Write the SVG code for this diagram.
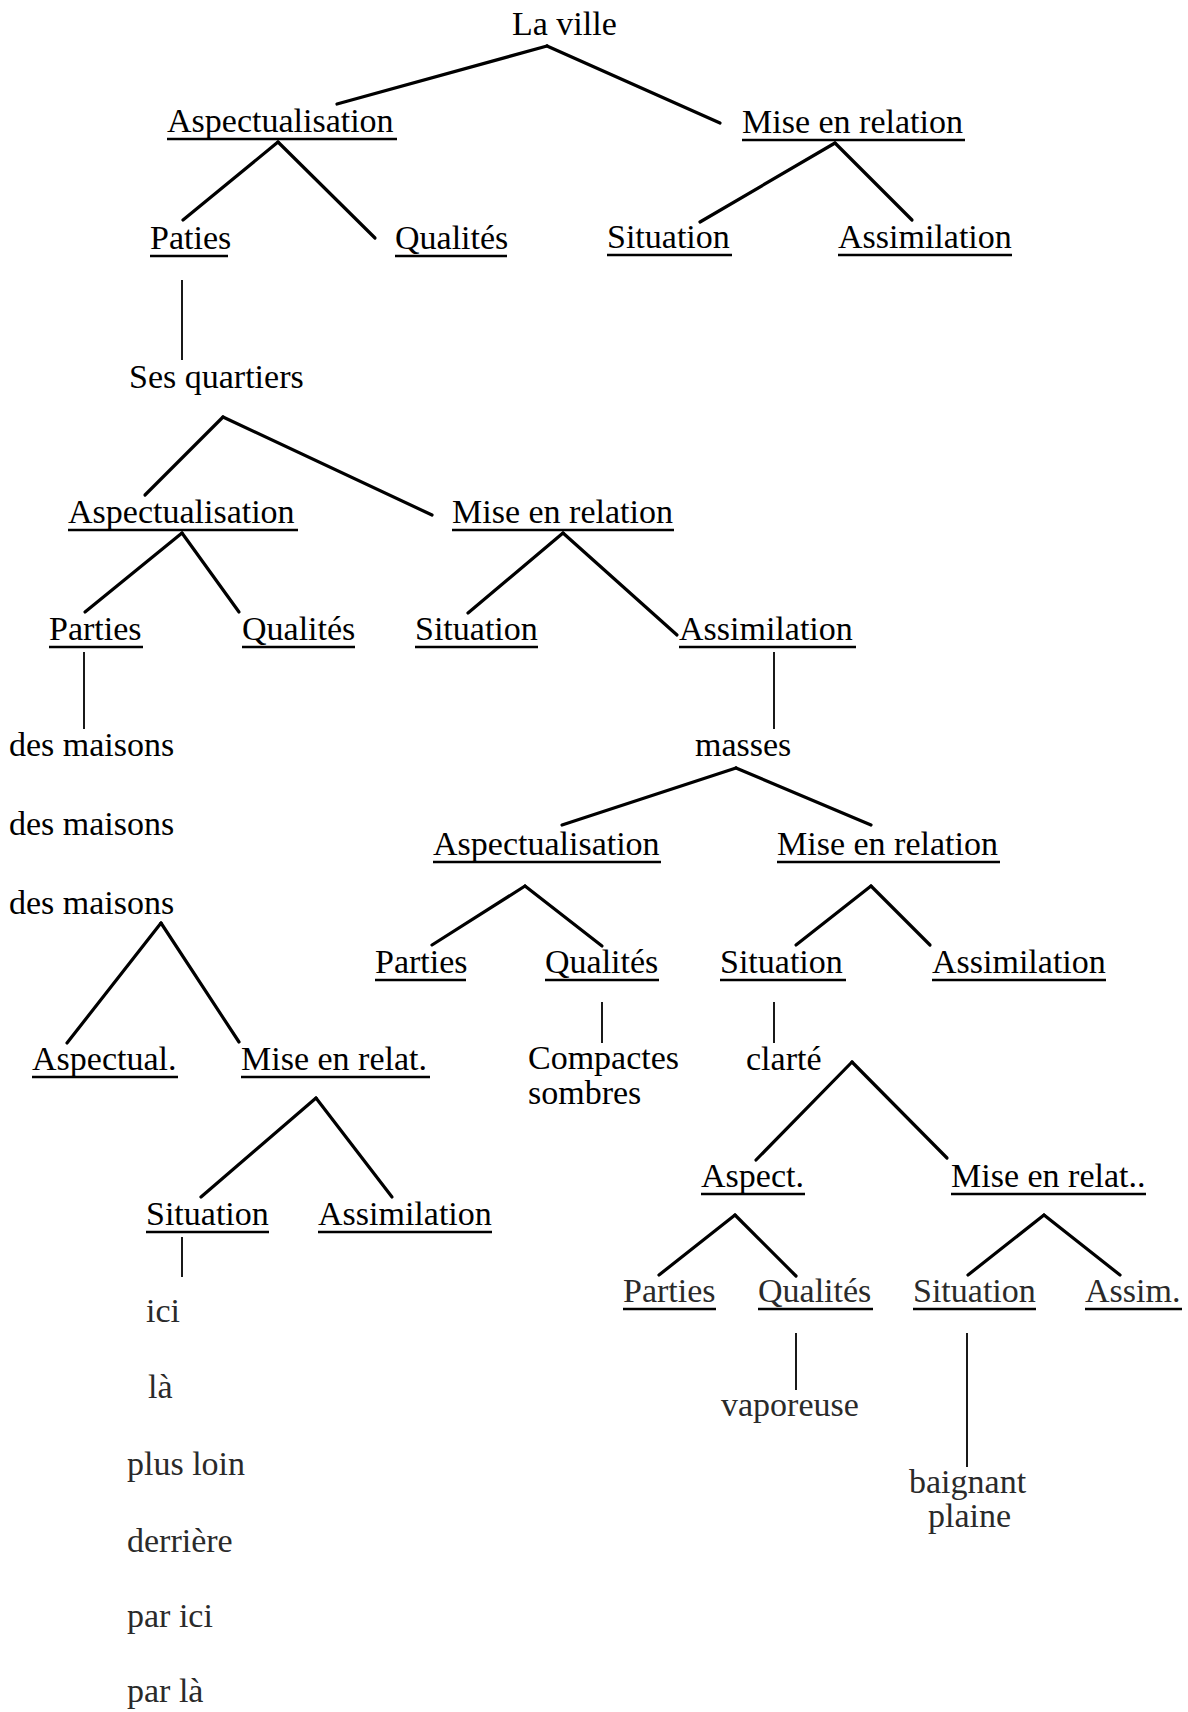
<svg xmlns="http://www.w3.org/2000/svg" width="1188" height="1712" viewBox="0 0 1188 1712">
<style>
  .t { font-family: "Liberation Serif", "Times New Roman", serif; font-size: 34px; fill: #000; }
  .lt { fill: #2a2a2a; }
  .u { stroke: #000; stroke-width: 2.6; fill: none; }
  .c { stroke: #000; stroke-width: 3.2; stroke-linecap: round; fill: none; }
  .v { stroke: #000; stroke-width: 1.8; fill: none; }
</style>
<rect width="1188" height="1712" fill="#fff"/>

<g id="connectors">
  <line class="c" x1="547" y1="46" x2="337" y2="104"/>
  <line class="c" x1="547" y1="46" x2="720" y2="123"/>
  <line class="c" x1="278" y1="142" x2="183" y2="220"/>
  <line class="c" x1="278" y1="142" x2="375" y2="238"/>
  <line class="c" x1="835" y1="143" x2="700" y2="222"/>
  <line class="c" x1="835" y1="143" x2="912" y2="220"/>
  <line class="v" x1="182" y1="280" x2="182" y2="360"/>
  <line class="c" x1="223" y1="417" x2="145" y2="495"/>
  <line class="c" x1="223" y1="417" x2="432" y2="515"/>
  <line class="c" x1="182" y1="533" x2="85" y2="612"/>
  <line class="c" x1="182" y1="533" x2="239" y2="612"/>
  <line class="c" x1="563" y1="533" x2="468" y2="613"/>
  <line class="c" x1="563" y1="533" x2="677" y2="635"/>
  <line class="v" x1="84" y1="652" x2="84" y2="729"/>
  <line class="v" x1="774" y1="652" x2="774" y2="729"/>
  <line class="c" x1="736" y1="768" x2="562" y2="825"/>
  <line class="c" x1="736" y1="768" x2="871" y2="825"/>
  <line class="c" x1="161" y1="923" x2="67" y2="1043"/>
  <line class="c" x1="161" y1="923" x2="239" y2="1042"/>
  <line class="c" x1="525" y1="886" x2="432" y2="945"/>
  <line class="c" x1="525" y1="886" x2="602" y2="946"/>
  <line class="c" x1="871" y1="886" x2="796" y2="945"/>
  <line class="c" x1="871" y1="886" x2="930" y2="945"/>
  <line class="v" x1="602" y1="1002" x2="602" y2="1043"/>
  <line class="v" x1="774" y1="1002" x2="774" y2="1043"/>
  <line class="c" x1="316" y1="1098" x2="201" y2="1197"/>
  <line class="c" x1="316" y1="1098" x2="392" y2="1197"/>
  <line class="c" x1="852" y1="1062" x2="756" y2="1160"/>
  <line class="c" x1="852" y1="1062" x2="947" y2="1158"/>
  <line class="v" x1="182" y1="1237" x2="182" y2="1277"/>
  <line class="c" x1="735" y1="1215" x2="659" y2="1275"/>
  <line class="c" x1="735" y1="1215" x2="796" y2="1276"/>
  <line class="c" x1="1044" y1="1215" x2="968" y2="1275"/>
  <line class="c" x1="1044" y1="1215" x2="1120" y2="1275"/>
  <line class="v" x1="796" y1="1333" x2="796" y2="1390"/>
  <line class="v" x1="967" y1="1333" x2="967" y2="1467"/>
</g>

<g id="n-la-ville"><text class="t" x="512" y="35">La ville</text></g>
<g id="n-aspect-1"><text class="t" x="167" y="132">Aspectualisation</text><line class="u" x1="167" y1="139" x2="397" y2="139"/></g>
<g id="n-mise-1"><text class="t" x="742" y="133">Mise en relation</text><line class="u" x1="742" y1="140" x2="965" y2="140"/></g>
<g id="n-paties"><text class="t" x="150" y="249">Paties</text><line class="u" x1="150" y1="256" x2="228" y2="256"/></g>
<g id="n-qual-1"><text class="t" x="395" y="249">Qualités</text><line class="u" x1="395" y1="256" x2="507" y2="256"/></g>
<g id="n-sit-1"><text class="t" x="607" y="248">Situation</text><line class="u" x1="607" y1="255" x2="732" y2="255"/></g>
<g id="n-assim-1"><text class="t" x="838" y="248">Assimilation</text><line class="u" x1="838" y1="255" x2="1012" y2="255"/></g>

<g id="n-quartiers"><text class="t" x="129" y="388">Ses quartiers</text></g>
<g id="n-aspect-2"><text class="t" x="68" y="523">Aspectualisation</text><line class="u" x1="68" y1="530" x2="298" y2="530"/></g>
<g id="n-mise-2"><text class="t" x="452" y="523">Mise en relation</text><line class="u" x1="452" y1="530" x2="674" y2="530"/></g>
<g id="n-parties-2"><text class="t" x="49" y="640">Parties</text><line class="u" x1="49" y1="647" x2="143" y2="647"/></g>
<g id="n-qual-2"><text class="t" x="242" y="640">Qualités</text><line class="u" x1="242" y1="647" x2="355" y2="647"/></g>
<g id="n-sit-2"><text class="t" x="415" y="640">Situation</text><line class="u" x1="415" y1="647" x2="538" y2="647"/></g>
<g id="n-assim-2"><text class="t" x="679" y="640">Assimilation</text><line class="u" x1="679" y1="647" x2="856" y2="647"/></g>

<g id="n-maisons-1"><text class="t" x="9" y="756">des maisons</text></g>
<g id="n-maisons-2"><text class="t" x="9" y="835">des maisons</text></g>
<g id="n-maisons-3"><text class="t" x="9" y="914">des maisons</text></g>
<g id="n-masses"><text class="t" x="695" y="756">masses</text></g>

<g id="n-aspect-3"><text class="t" x="433" y="855">Aspectualisation</text><line class="u" x1="433" y1="862" x2="661" y2="862"/></g>
<g id="n-mise-3"><text class="t" x="777" y="855">Mise en relation</text><line class="u" x1="777" y1="862" x2="1000" y2="862"/></g>
<g id="n-parties-3"><text class="t" x="375" y="973">Parties</text><line class="u" x1="375" y1="980" x2="466" y2="980"/></g>
<g id="n-qual-3"><text class="t" x="545" y="973">Qualités</text><line class="u" x1="545" y1="980" x2="659" y2="980"/></g>
<g id="n-sit-3"><text class="t" x="720" y="973">Situation</text><line class="u" x1="720" y1="980" x2="846" y2="980"/></g>
<g id="n-assim-3"><text class="t" x="932" y="973">Assimilation</text><line class="u" x1="932" y1="980" x2="1106" y2="980"/></g>

<g id="n-aspectual"><text class="t" x="32" y="1070">Aspectual.</text><line class="u" x1="32" y1="1077" x2="178" y2="1077"/></g>
<g id="n-mise-relat"><text class="t" x="241" y="1070">Mise en relat.</text><line class="u" x1="241" y1="1077" x2="430" y2="1077"/></g>
<g id="n-compactes"><text class="t" x="528" y="1069">Compactes</text><text class="t" x="528" y="1104">sombres</text></g>
<g id="n-clarte"><text class="t" x="746" y="1070">clarté</text></g>

<g id="n-sit-4"><text class="t" x="146" y="1225">Situation</text><line class="u" x1="146" y1="1232" x2="269" y2="1232"/></g>
<g id="n-assim-4"><text class="t" x="318" y="1225">Assimilation</text><line class="u" x1="318" y1="1232" x2="492" y2="1232"/></g>
<g id="n-aspect-short"><text class="t" x="701" y="1187">Aspect.</text><line class="u" x1="701" y1="1194" x2="805" y2="1194"/></g>
<g id="n-mise-relat2"><text class="t" x="951" y="1187">Mise en relat..</text><line class="u" x1="951" y1="1194" x2="1146" y2="1194"/></g>

<g id="n-parties-5"><text class="t lt" x="623" y="1302">Parties</text><line class="u" x1="623" y1="1309" x2="716" y2="1309"/></g>
<g id="n-qual-5"><text class="t lt" x="758" y="1302">Qualités</text><line class="u" x1="758" y1="1309" x2="873" y2="1309"/></g>
<g id="n-sit-5"><text class="t lt" x="913" y="1302">Situation</text><line class="u" x1="913" y1="1309" x2="1036" y2="1309"/></g>
<g id="n-assim-5"><text class="t lt" x="1085" y="1302">Assim.</text><line class="u" x1="1085" y1="1309" x2="1182" y2="1309"/></g>
<g id="n-vaporeuse"><text class="t lt" x="721" y="1416">vaporeuse</text></g>
<g id="n-baignant"><text class="t lt" x="909" y="1493">baignant</text><text class="t lt" x="928" y="1527">plaine</text></g>

<g id="n-ici"><text class="t lt" x="146" y="1322">ici</text></g>
<g id="n-la"><text class="t lt" x="148" y="1398">là</text></g>
<g id="n-plus-loin"><text class="t lt" x="127" y="1475">plus loin</text></g>
<g id="n-derriere"><text class="t lt" x="127" y="1552">derrière</text></g>
<g id="n-par-ici"><text class="t lt" x="127" y="1627">par ici</text></g>
<g id="n-par-la"><text class="t lt" x="127" y="1702">par là</text></g>
</svg>
